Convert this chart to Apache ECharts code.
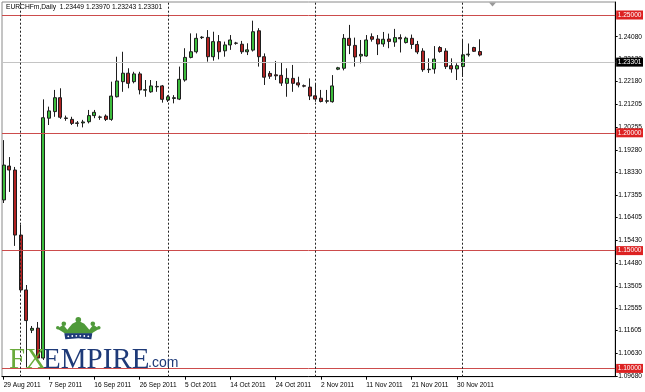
<!DOCTYPE html>
<html><head><meta charset="utf-8">
<script src="https://cdn.jsdelivr.net/npm/echarts@6/dist/echarts.min.js"></script>
<style>html,body{margin:0;padding:0;background:#fff}#c{width:645px;height:392px}</style>
</head><body><div id="c"></div>
<script>
const dates = ['29 Aug 2011','30 Aug 2011','31 Aug 2011','1 Sep 2011','2 Sep 2011','4 Sep 2011','5 Sep 2011','6 Sep 2011','7 Sep 2011','8 Sep 2011','9 Sep 2011','11 Sep 2011','12 Sep 2011','13 Sep 2011','14 Sep 2011','15 Sep 2011','16 Sep 2011','18 Sep 2011','19 Sep 2011','20 Sep 2011','21 Sep 2011','22 Sep 2011','23 Sep 2011','25 Sep 2011','26 Sep 2011','27 Sep 2011','28 Sep 2011','29 Sep 2011','30 Sep 2011','2 Oct 2011','3 Oct 2011','4 Oct 2011','5 Oct 2011','6 Oct 2011','7 Oct 2011','9 Oct 2011','10 Oct 2011','11 Oct 2011','12 Oct 2011','13 Oct 2011','14 Oct 2011','16 Oct 2011','17 Oct 2011','18 Oct 2011','19 Oct 2011','20 Oct 2011','21 Oct 2011','23 Oct 2011','24 Oct 2011','25 Oct 2011','26 Oct 2011','27 Oct 2011','28 Oct 2011','30 Oct 2011','31 Oct 2011','1 Nov 2011','2 Nov 2011','3 Nov 2011','4 Nov 2011','6 Nov 2011','7 Nov 2011','8 Nov 2011','9 Nov 2011','10 Nov 2011','11 Nov 2011','13 Nov 2011','14 Nov 2011','15 Nov 2011','16 Nov 2011','17 Nov 2011','18 Nov 2011','20 Nov 2011','21 Nov 2011','22 Nov 2011','23 Nov 2011','24 Nov 2011','25 Nov 2011','27 Nov 2011','28 Nov 2011','29 Nov 2011','30 Nov 2011','1 Dec 2011','2 Dec 2011','4 Dec 2011','5 Dec 2011'];
const open  = [1.1715,1.1859,1.1842,1.1566,1.1333,1.1162,1.1171,1.1044,1.2062,1.2090,1.2149,1.2063,1.2057,1.2042,1.2042,1.2047,1.2073,1.2067,1.2071,1.2057,1.2153,1.2217,1.2253,1.2217,1.2250,1.2181,1.2174,1.2195,1.2199,1.2139,1.2146,1.2143,1.2224,1.2320,1.2344,1.2404,1.2405,1.2323,1.2387,1.2348,1.2373,1.2381,1.2376,1.2344,1.2351,1.2433,1.2323,1.2252,1.2246,1.2244,1.2210,1.2231,1.2212,1.2200,1.2194,1.2157,1.2147,1.2134,1.2132,1.2270,1.2274,1.2401,1.2371,1.2326,1.2326,1.2408,1.2398,1.2377,1.2398,1.2385,1.2404,1.2383,1.2401,1.2375,1.2347,1.2268,1.2271,1.2362,1.2347,1.2285,1.2271,1.2281,1.2331,1.2362,1.23449];
const high  = [1.1969,1.1897,1.1855,1.1609,1.1354,1.1180,1.1197,1.2142,1.2111,1.2182,1.2189,1.2073,1.2068,1.2050,1.2055,1.2097,1.2097,1.2073,1.2078,1.2217,1.2323,1.2344,1.2274,1.2259,1.2259,1.2224,1.2224,1.2220,1.2203,1.2160,1.2160,1.2281,1.2359,1.2422,1.2422,1.2410,1.2436,1.2429,1.2415,1.2387,1.2415,1.2386,1.2390,1.2380,1.2476,1.2444,1.2337,1.2262,1.2305,1.2300,1.2274,1.2288,1.2238,1.2205,1.2231,1.2210,1.2182,1.2182,1.2245,1.2280,1.2419,1.2458,1.2404,1.2394,1.2415,1.2422,1.2415,1.2428,1.2421,1.2441,1.2418,1.2408,1.2417,1.2390,1.2359,1.2316,1.2368,1.2368,1.2359,1.2316,1.2295,1.2394,1.2379,1.2365,1.23970];
const low   = [1.1702,1.1749,1.1520,1.1325,1.1005,1.1150,1.1036,1.1036,1.2033,1.2068,1.2059,1.2051,1.2033,1.2026,1.2023,1.2040,1.2062,1.2055,1.2050,1.2051,1.2150,1.2174,1.2189,1.2210,1.2163,1.2153,1.2170,1.2174,1.2128,1.2131,1.2125,1.2139,1.2217,1.2316,1.2337,1.2398,1.2302,1.2306,1.2312,1.2323,1.2352,1.2374,1.2335,1.2330,1.2345,1.2281,1.2203,1.2229,1.2224,1.2199,1.2153,1.2174,1.2193,1.2193,1.2139,1.2132,1.2129,1.2125,1.2128,1.2266,1.2265,1.2334,1.2281,1.2295,1.2323,1.2387,1.2330,1.2365,1.2359,1.2365,1.2341,1.2379,1.2356,1.2334,1.2259,1.2254,1.2251,1.2340,1.2271,1.2255,1.2224,1.2237,1.2323,1.2343,1.23243];
const close = [1.1863,1.1842,1.1566,1.1333,1.1203,1.1170,1.1044,1.2064,1.2093,1.2149,1.2066,1.2061,1.2040,1.2040,1.2046,1.2073,1.2087,1.2066,1.2057,1.2156,1.2220,1.2253,1.2210,1.2250,1.2182,1.2183,1.2199,1.2197,1.2142,1.2153,1.2149,1.2227,1.2320,1.2344,1.2401,1.2406,1.2323,1.2387,1.2344,1.2373,1.2394,1.2380,1.2344,1.2352,1.2429,1.2323,1.2236,1.2240,1.2242,1.2211,1.2231,1.2210,1.2203,1.2198,1.2156,1.2143,1.2133,1.2136,1.2199,1.2276,1.2401,1.2371,1.2322,1.2333,1.2394,1.2397,1.2377,1.2397,1.2388,1.2404,1.2399,1.2402,1.2375,1.2343,1.2268,1.2270,1.2313,1.2345,1.2281,1.2271,1.2285,1.2331,1.2334,1.2346,1.23301];
const labelDates = ['29 Aug 2011','7 Sep 2011','16 Sep 2011','26 Sep 2011','5 Oct 2011','14 Oct 2011','24 Oct 2011','2 Nov 2011','11 Nov 2011','21 Nov 2011','30 Nov 2011'];
const yTicks = [1.09680,1.10630,1.11605,1.12555,1.13505,1.14480,1.15430,1.16405,1.17355,1.18330,1.19280,1.20255,1.21205,1.22180,1.23130,1.24080];
const levels = [1.25000,1.20000,1.15000,1.10000];
const bid = 1.23301;
const separators = ['1 Sep 2011','2 Oct 2011','1 Nov 2011','1 Dec 2011'];
const titleText = 'EURCHFm,Daily  1.23449 1.23970 1.23243 1.23301';

const FONT = 'Liberation Sans, Arial, sans-serif';
const RED_LINE = '#cc4c4c';
const chart = echarts.init(document.getElementById('c'), null, {renderer: 'canvas'});
const candles = dates.map((d, i) => [i, open[i], close[i], low[i], high[i]]);
const labelIdx = labelDates.map(d => dates.indexOf(d));

const levelLines = levels.map(v => ({
  yAxis: v,
  lineStyle: {color: RED_LINE, width: 1, type: 'solid', opacity: 1},
  label: {show: true, position: 'end', distance: 1, formatter: () => v.toFixed(5),
    backgroundColor: '#dd2222', color: '#fff', fontSize: 6.6, fontFamily: FONT, padding: [1.5, 1.5, 0.5, 1.5]}
}));
const bidLine = [{
  yAxis: bid,
  lineStyle: {color: '#c4c4c4', width: 1, type: 'solid', opacity: 1},
  label: {show: true, position: 'end', distance: 1, formatter: () => bid.toFixed(5),
    backgroundColor: '#000', color: '#fff', fontSize: 6.6, fontFamily: FONT, padding: [1.5, 1.5, 0.5, 1.5]}
}];
const sepLines = separators.map(d => ({
  xAxis: dates.indexOf(d),
  label: {show: false}
}));

chart.setOption({
  animation: false,
  backgroundColor: '#fff',
  title: {text: titleText, left: 6, top: 4, padding: 0,
    textStyle: {fontSize: 6.7, fontWeight: 'normal', color: '#000', fontFamily: FONT}},
  grid: {left: 2, right: 29.5, top: 2, bottom: 15.3, show: true, borderColor: '#8a8a8a', borderWidth: 1, backgroundColor: '#fff'},
  xAxis: {
    type: 'value', min: -0.296, max: 107.92,
    splitLine: {show: false},
    axisLine: {show: true, lineStyle: {color: '#000', width: 1}},
    axisTick: {show: true, customValues: labelIdx, length: 3, lineStyle: {color: '#000'}},
    axisLabel: {customValues: labelIdx, formatter: v => dates[Math.round(v)] || '', align: 'left',
      fontSize: 6.6, fontFamily: FONT, color: '#000', margin: 5}
  },
  yAxis: {
    type: 'value', position: 'right', min: 1.09648, max: 1.25552, scale: true,
    splitLine: {show: false},
    axisLine: {show: true, onZero: false, lineStyle: {color: '#000', width: 1}},
    axisTick: {show: true, customValues: yTicks, length: 2.5, lineStyle: {color: '#000'}},
    axisLabel: {customValues: yTicks, formatter: v => v.toFixed(5), fontSize: 6.6, fontFamily: FONT, color: '#000', margin: 3}
  },
  series: [
    {
      type: 'candlestick',
      data: candles,
      barWidth: 3.6,
      itemStyle: {color: '#3cbc3c', color0: '#b02222', borderColor: '#1e1e1e', borderColor0: '#1e1e1e', borderWidth: 1},
      markLine: {silent: true, symbol: 'none', animation: false,
        lineStyle: {color: RED_LINE, width: 1, type: 'solid'}, data: levelLines.concat(bidLine)}
    },
    {
      type: 'candlestick',
      data: [],
      markLine: {silent: true, symbol: 'none', animation: false,
        lineStyle: {color: '#222', width: 1, type: [2, 2]}, label: {show: false}, data: sepLines}
    }
  ],
  graphic: [
    {type: 'polygon', shape: {points: [[489, 2.5], [496, 2.5], [492.5, 6.5]]}, style: {fill: '#9a9a9a'}, z: 100},
    {type: 'group', left: 56, top: 317, z: 100, children: [
      {type: 'polygon', shape: {points: [[1,12],[7,8],[11,13],[16,7],[22,4],[28,7],[33,13],[37,8],[43,12],[38,15],[35,17],[9,17],[6,15]]}, style: {fill: '#4f9a3a'}},
      {type: 'circle', shape: {cx: 7.5, cy: 7, r: 2.3}, style: {fill: '#4f9a3a'}},
      {type: 'circle', shape: {cx: 22, cy: 3, r: 2.8}, style: {fill: '#4f9a3a'}},
      {type: 'circle', shape: {cx: 36.5, cy: 7, r: 2.3}, style: {fill: '#4f9a3a'}},
      {type: 'circle', shape: {cx: 1.5, cy: 11, r: 1.8}, style: {fill: '#4f9a3a'}},
      {type: 'circle', shape: {cx: 42.5, cy: 11, r: 1.8}, style: {fill: '#4f9a3a'}},
      {type: 'polygon', shape: {points: [[8,16.5],[36,16.5],[35,22.5],[22,21.5],[9,22.5]]}, style: {fill: '#1e3a78'}},
      {type: 'circle', shape: {cx: 12, cy: 19.5, r: 0.9}, style: {fill: '#fff'}},
      {type: 'circle', shape: {cx: 16, cy: 19.2, r: 0.9}, style: {fill: '#fff'}},
      {type: 'circle', shape: {cx: 20, cy: 19, r: 0.9}, style: {fill: '#fff'}},
      {type: 'circle', shape: {cx: 24, cy: 19, r: 0.9}, style: {fill: '#fff'}},
      {type: 'circle', shape: {cx: 28, cy: 19.2, r: 0.9}, style: {fill: '#fff'}},
      {type: 'circle', shape: {cx: 32, cy: 19.5, r: 0.9}, style: {fill: '#fff'}}
    ]},
    {type: 'text', left: 9, top: 346, z: 100, style: {text: 'FX', fill: '#6aab3c', font: '29px "Liberation Serif", serif'}},
    {type: 'text', left: 43, top: 346, z: 100, style: {text: 'EMPIRE', fill: '#1e3a78', font: '29px "Liberation Serif", serif'}},
    {type: 'text', left: 148, top: 356, z: 100, style: {text: '.com', fill: '#1e3a78', font: '14px "Liberation Sans", sans-serif'}}
  ]
});
</script>
</body></html>
